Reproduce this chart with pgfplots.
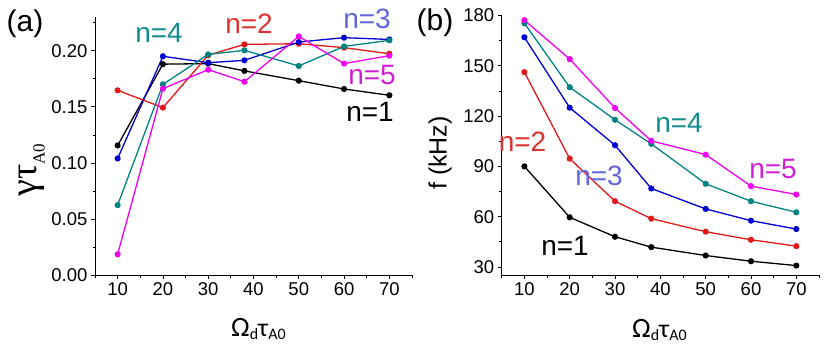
\documentclass[border=0pt]{standalone}
\usepackage{fontspec}
\setmainfont{Liberation Sans}
\newfontfamily\timesf{Liberation Serif}
\newfontfamily\carlito{Carlito}
\usepackage{pgfplots}
\pgfplotsset{compat=1.18}

\definecolor{cred}{RGB}{225,25,25}
\definecolor{cblue}{RGB}{0,0,210}
\definecolor{cteal}{RGB}{0,130,130}
\definecolor{cmag}{RGB}{240,0,240}
\definecolor{lred}{RGB}{220,50,50}
\definecolor{lblue}{RGB}{100,100,220}
\definecolor{lteal}{RGB}{20,140,140}
\definecolor{lmag}{RGB}{210,30,210}

\pgfplotsset{
  panel/.style={
    scale only axis,
    axis x line*=bottom, axis y line*=left,
    axis line style={line width=0.8pt,-},
    tick align=outside,
    major tick length=4pt, minor tick length=2.5pt,
    every tick/.style={black, line width=0.8pt},
    tick label style={font=\fontsize{18.5}{20}\selectfont},
    /pgf/number format/assume math mode=true,
    xmin=5, xmax=75,
    xtick={10,20,...,70},
    minor xtick={5,15,...,75},
    every axis plot/.append style={line width=1.3pt, mark=*, mark size=2.4pt},
  },
}
\tikzset{nlab/.style={font=\fontsize{28}{28}\selectfont, inner sep=0pt, anchor=center}}

\pgfplotstableread{
x   n1      n2      n3      n4      n5
10  0.1156  0.1647  0.1040  0.0625  0.0187
20  0.1880  0.1493  0.1950  0.1700  0.1662
30  0.1885  0.1960  0.1893  0.1967  0.1831
38  0.1820  0.2056  0.1914  0.2003  0.1724
50  0.1733  0.2062  0.2077  0.1864  0.2127
60  0.1659  0.2027  0.2116  0.2038  0.1885
70  0.1603  0.1973  0.2100  0.2092  0.1956
}\growth

\pgfplotstableread{
x   n1     n2     n3     n4     n5
10  90.0   146.2  167.0  175.4  177.2
20  59.6   94.6   125.0  137.2  154.0
30  48.0   69.2   102.6  117.8  124.8
38  41.8   58.8   76.8   103.4  105.2
50  36.8   51.0   64.6   79.6   97.0
60  33.4   46.2   57.6   69.2   78.2
70  30.8   42.4   52.6   62.6   73.2
}\freq

\begin{document}
\begin{tikzpicture}
\path[use as bounding box] (0,0) rectangle (826pt,347pt);

% panel (a)
\begin{axis}[panel,
  at={(95pt,71.7pt)}, anchor=south west,
  width=317pt, height=258.3pt,
  ymin=0, ymax=0.23,
  ytick={0,0.05,0.1,0.15,0.2},
  minor ytick={0.025,0.075,0.125,0.175,0.225},
  yticklabel style={/pgf/number format/.cd, fixed, fixed zerofill, precision=2},
]
\addplot[black] table[x=x,y=n1] {\growth};
\addplot[cred] table[x=x,y=n2] {\growth};
\addplot[cblue] table[x=x,y=n3] {\growth};
\addplot[cteal] table[x=x,y=n4] {\growth};
\addplot[cmag] table[x=x,y=n5] {\growth};
\end{axis}

% panel (b)
\begin{axis}[panel,
  at={(501.7pt,71.7pt)}, anchor=south west,
  width=317.3pt, height=259.8pt,
  ymin=25, ymax=180,
  ytick={30,60,...,180},
  minor ytick={45,75,...,165},
]
\addplot[black] table[x=x,y=n1] {\freq};
\addplot[cred] table[x=x,y=n2] {\freq};
\addplot[cblue] table[x=x,y=n3] {\freq};
\addplot[cteal] table[x=x,y=n4] {\freq};
\addplot[cmag] table[x=x,y=n5] {\freq};
\end{axis}

% panel letters
\node[inner sep=0pt, font=\fontsize{30}{30}\selectfont] at (25pt,323pt) {(a)};
\node[inner sep=0pt, font=\fontsize{30}{30}\selectfont] at (435pt,324.5pt) {(b)};

% series labels (a)
\node[nlab, text=lteal] at (159pt,314.2pt) {n=4};
\node[nlab, text=lred] at (249pt,323.7pt) {n=2};
\node[nlab, text=lblue] at (367pt,328.2pt) {n=3};
\node[nlab, text=lmag] at (372pt,272pt) {n=5};
\node[nlab, text=black] at (370pt,235pt) {n=1};

% series labels (b)
\node[nlab, text=lred] at (522.5pt,205.3pt) {n=2};
\node[nlab, text=lblue] at (599pt,171.5pt) {n=3};
\node[nlab, text=lteal] at (679pt,224.5pt) {n=4};
\node[nlab, text=lmag] at (773pt,178pt) {n=5};
\node[nlab, text=black] at (565pt,101.2pt) {n=1};

% axis labels
\node[inner sep=0pt, anchor=base west] at (231pt,10.3pt)
  {\carlito\fontsize{28}{28}\selectfont Ω\raisebox{-3.3pt}{\fontsize{16}{16}\selectfont d}\fontsize{26}{26}\selectfont τ\raisebox{-3.3pt}{\fontsize{16}{16}\selectfont A0}};
\node[inner sep=0pt, anchor=base west] at (632pt,9.7pt)
  {\carlito\fontsize{28}{28}\selectfont Ω\raisebox{-3.3pt}{\fontsize{16}{16}\selectfont d}\fontsize{26}{26}\selectfont τ\raisebox{-3.3pt}{\fontsize{16}{16}\selectfont A0}};
\node[inner sep=0pt, anchor=base west, rotate=90] at (36.7pt,150pt)
  {\timesf\fontsize{38}{38}\selectfont γτ\raisebox{-8pt}{\fontsize{17}{17}\selectfont A0}};
\node[inner sep=0pt, anchor=base west, rotate=90] at (446.7pt,157pt)
  {\fontsize{25}{25}\selectfont f (kHz)};
\end{tikzpicture}
\end{document}
